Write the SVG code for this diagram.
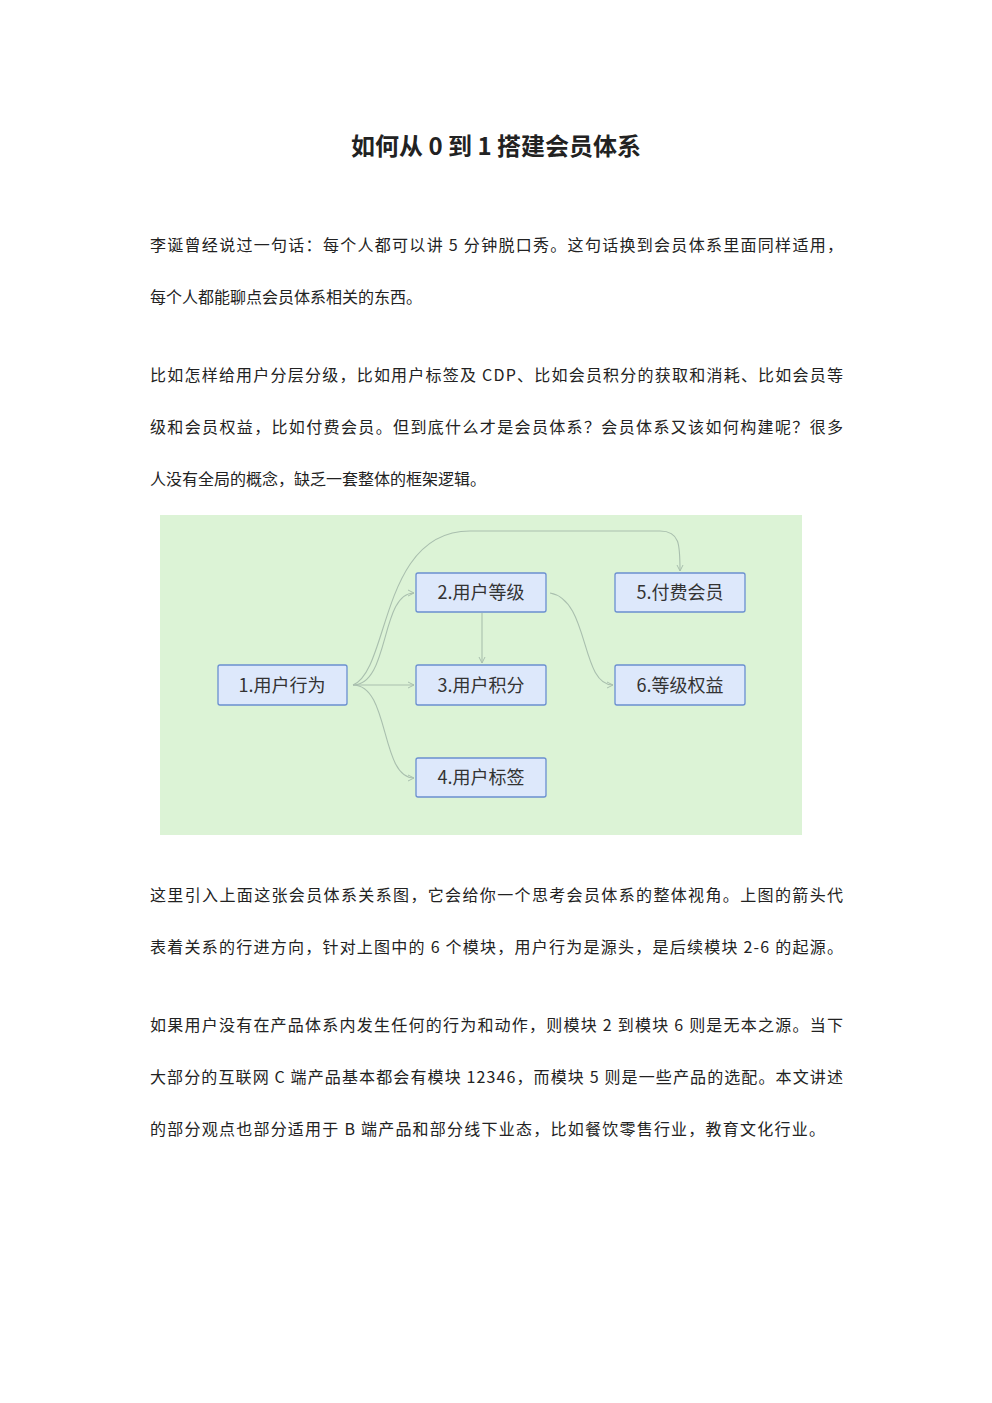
<svg xmlns="http://www.w3.org/2000/svg" width="992" height="1403" viewBox="0 0 992 1403">
<style>
.t{font-family:"Noto Sans CJK SC","Noto Sans",sans-serif;font-size:16px;fill:#222}
.n rect{fill:#dde8fb;stroke:#6a8fd0;stroke-width:1.3}
.n text{font-family:"Noto Sans CJK SC","Noto Sans",sans-serif;font-size:18px;fill:#333;text-anchor:middle}
.c path{fill:none;stroke:#a9bfae;stroke-width:1.1;marker-end:url(#a)}
</style>
<defs><marker id="a" markerWidth="8" markerHeight="8" refX="7" refY="4" orient="auto" markerUnits="userSpaceOnUse"><path d="M1,1 L7,4 L1,7" fill="none" stroke="#a9bfae" stroke-width="1"/></marker></defs>
<rect width="992" height="1403" fill="#fff"/>
<text x="496" y="155" text-anchor="middle" style="font-family:'Noto Sans CJK SC',sans-serif;font-size:24px;font-weight:bold;fill:#222">如何从 0 到 1 搭建会员体系</text>
<text class="t" x="150" y="251" textLength="693" lengthAdjust="spacing">李诞曾经说过一句话：每个人都可以讲 5 分钟脱口秀。这句话换到会员体系里面同样适用，</text>
<text class="t" x="150" y="303">每个人都能聊点会员体系相关的东西。</text>
<text class="t" x="150" y="381" textLength="693" lengthAdjust="spacing">比如怎样给用户分层分级，比如用户标签及 CDP、比如会员积分的获取和消耗、比如会员等</text>
<text class="t" x="150" y="433" textLength="693" lengthAdjust="spacing">级和会员权益，比如付费会员。但到底什么才是会员体系？会员体系又该如何构建呢？很多</text>
<text class="t" x="150" y="485">人没有全局的概念，缺乏一套整体的框架逻辑。</text>
<rect x="160" y="515" width="642" height="320" fill="#dcf3d6"/>
<g class="c">
<path d="M353,685 C390,685 380,593 414,593"/>
<path d="M353,685 L414,685"/>
<path d="M353,685 C390,685 380,778 414,778"/>
<path d="M353,685 C390,670 380,531 470,531 L660,531 C680,531 680,545 680,571"/>
<path d="M482,613 L482,663"/>
<path d="M550,593 C590,600 580,685 613,685"/>
</g>
<g id="n1" class="n"><rect x="218" y="665" width="129" height="40" rx="2"/><text x="282" y="692">1.用户行为</text></g>
<g id="n2" class="n"><rect x="416" y="573" width="130" height="39" rx="2"/><text x="481" y="599">2.用户等级</text></g>
<g id="n3" class="n"><rect x="416" y="665" width="130" height="40" rx="2"/><text x="481" y="692">3.用户积分</text></g>
<g id="n4" class="n"><rect x="416" y="758" width="130" height="39" rx="2"/><text x="481" y="784">4.用户标签</text></g>
<g id="n5" class="n"><rect x="615" y="573" width="130" height="39" rx="2"/><text x="680" y="599">5.付费会员</text></g>
<g id="n6" class="n"><rect x="615" y="665" width="130" height="40" rx="2"/><text x="680" y="692">6.等级权益</text></g>
<text class="t" x="150" y="901" textLength="693" lengthAdjust="spacing">这里引入上面这张会员体系关系图，它会给你一个思考会员体系的整体视角。上图的箭头代</text>
<text class="t" x="150" y="953" textLength="693" lengthAdjust="spacing">表着关系的行进方向，针对上图中的 6 个模块，用户行为是源头，是后续模块 2-6 的起源。</text>
<text class="t" x="150" y="1031" textLength="693" lengthAdjust="spacing">如果用户没有在产品体系内发生任何的行为和动作，则模块 2 到模块 6 则是无本之源。当下</text>
<text class="t" x="150" y="1083" textLength="693" lengthAdjust="spacing">大部分的互联网 C 端产品基本都会有模块 12346，而模块 5 则是一些产品的选配。本文讲述</text>
<text class="t" x="150" y="1135" textLength="675" lengthAdjust="spacing">的部分观点也部分适用于 B 端产品和部分线下业态，比如餐饮零售行业，教育文化行业。</text>
</svg>
